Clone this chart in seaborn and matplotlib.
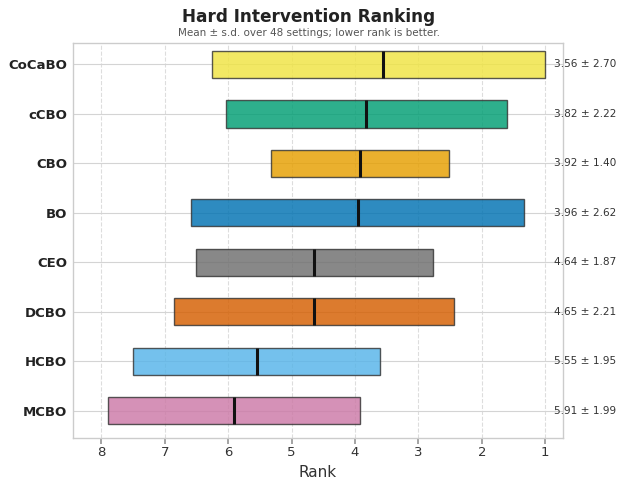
import matplotlib
matplotlib.use("Agg")
import matplotlib.pyplot as plt
import seaborn as sns
import numpy as np

methods = ["CoCaBO", "cCBO", "CBO", "BO", "CEO", "DCBO", "HCBO", "MCBO"]
mean_rank = [3.56, 3.82, 3.92, 3.96, 4.64, 4.65, 5.55, 5.91]
sd_rank = [2.70, 2.22, 1.40, 2.62, 1.87, 2.21, 1.95, 1.99]
colors = ["#F0E442", "#009E73", "#E69F00", "#0072B2",
          "#6E6E6E", "#D55E00", "#56B4E9", "#CC79A7"]
n_settings = 48
rank_ticks = [8, 7, 6, 5, 4, 3, 2, 1]

sns.set_theme(style="whitegrid")
plt.rcParams["font.family"] = ["DejaVu Sans"]

fig = plt.figure(figsize=(6.18, 4.8), dpi=100)
ax = fig.add_axes([0.118, 0.0875, 0.793, 0.8225])

mean = np.array(mean_rank)
sd = np.array(sd_rank)
lo = np.clip(mean - sd, 1, 8)
hi = np.clip(mean + sd, 1, 8)
ypos = np.arange(len(methods))

ax.barh(ypos, hi - lo, left=lo, height=0.55, color=colors, alpha=0.82,
        edgecolor="#333333", linewidth=1.0, zorder=3)
ax.vlines(mean, ypos - 0.275, ypos + 0.275, color="#111111", linewidth=2.2, zorder=4)

for y, m, s in zip(ypos, mean_rank, sd_rank):
    ax.text(0.86, y, f"{m:.2f} ± {s:.2f}", ha="left", va="center",
            fontsize=7.6, color="#333333", clip_on=False, zorder=5)

ax.set_yticks(ypos)
ax.set_yticklabels(methods, fontsize=9.5, fontweight="bold", color="#222222")
ax.set_ylim(7.55, -0.43)
ax.set_xticks(rank_ticks)
ax.set_xticklabels([str(t) for t in rank_ticks], fontsize=9.5, color="#333333")
ax.set_xlim(8.45, 0.72)
ax.set_xlabel("Rank", fontsize=11, color="#333333")

ax.grid(axis="y", color="#d4d4d4", linestyle="-", linewidth=0.8, zorder=0)
ax.grid(axis="x", color="#dddddd", linestyle="--", linewidth=0.8, zorder=0)
ax.set_axisbelow(True)
for sp in ax.spines.values():
    sp.set_color("#cccccc")
    sp.set_linewidth(1.0)
ax.tick_params(axis="x", which="both", bottom=True, length=4, color="#999999", pad=2)
ax.tick_params(axis="y", length=0, pad=4)

fig.text(0.5, 0.965, "Hard Intervention Ranking", ha="center", va="center",
         fontsize=12.2, fontweight="bold", color="#222222")
fig.text(0.5, 0.932, f"Mean ± s.d. over {n_settings} settings; lower rank is better.",
         ha="center", va="center", fontsize=7.5, color="#555555")

fig.savefig("out.png", dpi=100)
